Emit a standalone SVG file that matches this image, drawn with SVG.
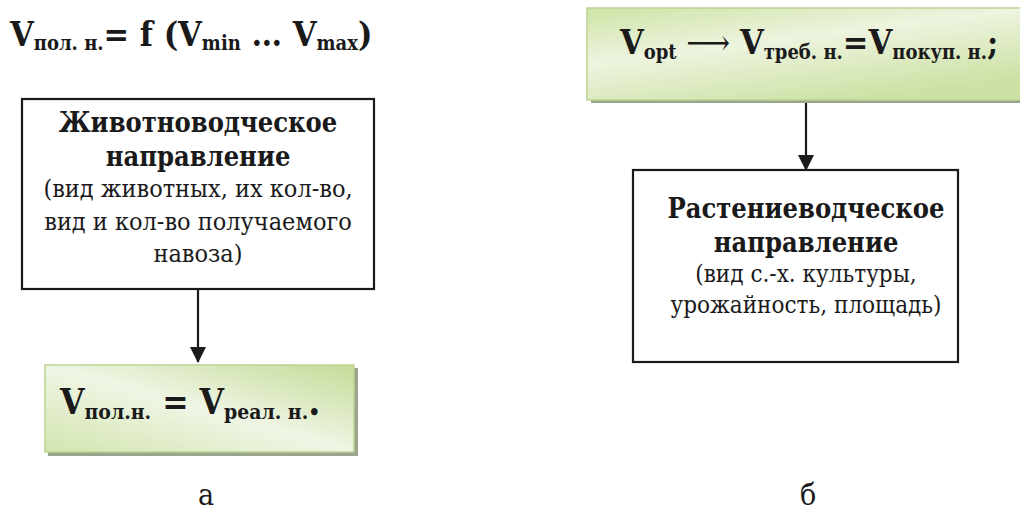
<svg xmlns="http://www.w3.org/2000/svg" width="1020" height="513" viewBox="0 0 1020 513">
<defs>
<linearGradient id="gL" x1="0" y1="1" x2="1" y2="0">
<stop offset="0" stop-color="#d3e5b0"/>
<stop offset="0.5" stop-color="#eff5e4"/>
<stop offset="1" stop-color="#c4db98"/>
</linearGradient>
<linearGradient id="gR" x1="0" y1="0" x2="0.6" y2="1">
<stop offset="0" stop-color="#cfe3a6"/>
<stop offset="0.45" stop-color="#edf4df"/>
<stop offset="1" stop-color="#cde1a5"/>
</linearGradient>
<marker id="arr" markerWidth="16" markerHeight="18" refX="15" refY="8" orient="auto" markerUnits="userSpaceOnUse">
<path d="M0,0 L16,8 L0,16 Z" fill="#1a1a1a"/>
</marker>
</defs>
<style>
.t{font-family:"DejaVu Serif Condensed","DejaVu Serif","Liberation Serif",serif;fill:#1a1a1a}
.b{font-weight:bold}
.box{fill:#fff;stroke:#1a1a1a;stroke-width:2.2}
.shadow{fill:#9ba48c}
.conn{stroke:#1a1a1a;stroke-width:2.2;fill:none}
</style>
<rect width="1020" height="513" fill="#fff"/>

<g id="title-left">
<text class="t b" x="10" y="46" font-size="34">V<tspan font-size="20" dy="4">пол. н.</tspan><tspan dy="-4">= f (V</tspan><tspan font-size="20" dy="4">min</tspan><tspan dy="-4"> … V</tspan><tspan font-size="20" dy="4">max</tspan><tspan dy="-4">)</tspan></text>
</g>

<g id="node-animal">
<rect class="box" x="22" y="99" width="352" height="190"/>
<text class="t b" x="198" y="132" font-size="27" text-anchor="middle">Животноводческое</text>
<text class="t b" x="198" y="166" font-size="27" text-anchor="middle">направление</text>
<text class="t" x="198" y="197" font-size="25" text-anchor="middle">(вид животных, их кол-во,</text>
<text class="t" x="198" y="230" font-size="25" text-anchor="middle">вид и кол-во получаемого</text>
<text class="t" x="198" y="262" font-size="25" text-anchor="middle">навоза)</text>
</g>

<g id="node-vreal">
<rect class="shadow" x="48" y="368" width="310" height="88"/>
<rect x="45" y="365" width="309" height="87" fill="url(#gL)" stroke="#bcd492" stroke-width="1.5"/>
<text class="t b" x="60" y="414" font-size="35">V<tspan font-size="21" dy="5">пол.н.</tspan><tspan dy="-5"> = V</tspan><tspan font-size="21" dy="5">реал. н.•</tspan></text>
</g>

<g id="node-vopt">
<rect class="shadow" x="591" y="11" width="432" height="92"/>
<rect x="587" y="8" width="436" height="92" fill="url(#gR)" stroke="#bcd492" stroke-width="1.5"/>
<text class="t b" x="620" y="54" font-size="34">V<tspan font-size="20" dy="5">opt</tspan><tspan dy="-5" font-weight="normal"> ⟶ </tspan><tspan dy="0">V</tspan><tspan font-size="20" dy="5">треб. н.</tspan><tspan dy="-5">=V</tspan><tspan font-size="20" dy="5">покуп. н.</tspan><tspan dy="-5">;</tspan></text>
</g>

<g id="node-plant">
<rect class="box" x="633" y="170" width="325" height="192"/>
<text class="t b" x="806" y="218" font-size="27" text-anchor="middle">Растениеводческое</text>
<text class="t b" x="806" y="252" font-size="27" text-anchor="middle">направление</text>
<text class="t" x="806" y="282" font-size="24" text-anchor="middle">(вид с.-х. культуры,</text>
<text class="t" x="806" y="313" font-size="24" text-anchor="middle">урожайность, площадь)</text>
</g>

<g id="connectors">
<line class="conn" x1="198" y1="289" x2="198" y2="362" marker-end="url(#arr)"/>
<line class="conn" x1="806" y1="103" x2="806" y2="170" marker-end="url(#arr)"/>
</g>

<g id="labels">
<text class="t" x="206" y="505" font-size="30" text-anchor="middle">а</text>
<text class="t" x="808" y="505" font-size="30" text-anchor="middle">б</text>
</g>
</svg>
